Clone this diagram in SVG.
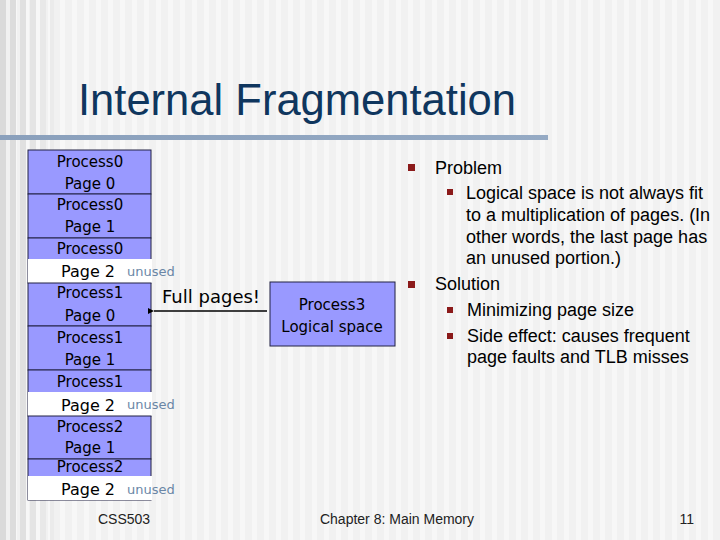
<svg xmlns="http://www.w3.org/2000/svg" width="720" height="540" viewBox="0 0 720 540">
<defs>
<pattern id="stripes" x="0" y="0" width="12" height="540" patternUnits="userSpaceOnUse">
<rect width="12" height="540" fill="#f1f1f1"/>
<rect x="0" width="5" height="540" fill="#f7f7f7"/>
</pattern>
<linearGradient id="bar" x1="0" y1="0" x2="1" y2="0">
<stop offset="0" stop-color="#8aa0bc"/>
<stop offset="1" stop-color="#95aac4"/>
</linearGradient>
<marker id="arr" markerWidth="8" markerHeight="8" refX="1" refY="4" orient="auto" markerUnits="userSpaceOnUse">
<path d="M7,1 L1,4 L7,7 z" fill="#000"/>
</marker>
<style>
.blk{fill:#9999ff;stroke:#222244;stroke-width:1}
.wht{fill:#ffffff;stroke:none}
.st{font-family:"DejaVu Sans",Verdana,sans-serif;font-size:15px;fill:#000;text-anchor:middle}
.pg2{font-family:"DejaVu Sans",Verdana,sans-serif;font-size:16px;fill:#000}
.un{font-family:"DejaVu Sans",Verdana,sans-serif;font-size:13px;fill:#6a86a6}
.bt{font-family:"Liberation Sans",Arial,sans-serif;font-size:18px;fill:#000}
.bul{fill:#8b1a1a}
.ft{font-family:"Liberation Sans",Arial,sans-serif;font-size:14px;fill:#222}
</style>
</defs>
<rect width="720" height="540" fill="url(#stripes)"/>
<rect x="0" width="6" height="540" fill="#dadada"/>
<rect x="10" width="6" height="540" fill="#dcdcdc"/>
<rect x="20" width="6" height="540" fill="#e0e0e0"/>
<rect x="30" width="6" height="540" fill="#e4e4e4"/>
<rect x="40" width="6" height="540" fill="#e8e8e8"/>
<rect x="50" width="4" height="540" fill="#ebebeb"/>

<g id="title">
<text x="78" y="115" font-family="Liberation Sans, Arial, sans-serif" font-size="45" fill="#0f365e" textLength="438" lengthAdjust="spacingAndGlyphs">Internal Fragmentation</text>
<rect x="0" y="135" width="548" height="5" fill="url(#bar)"/>
</g>

<g id="stack">
<g id="p0pg0"><rect class="blk" x="28" y="150" width="123" height="44"/><text class="st" x="90" y="167">Process0</text><text class="st" x="90" y="189">Page 0</text></g>
<g id="p0pg1"><rect class="blk" x="28" y="194" width="123" height="44"/><text class="st" x="90" y="210">Process0</text><text class="st" x="90" y="232">Page 1</text></g>
<g id="p0pg2"><rect class="blk" x="28" y="238" width="123" height="45"/><rect class="wht" x="28" y="259" width="124" height="24"/><text class="st" x="90" y="254">Process0</text><text class="pg2" x="61" y="277">Page 2</text><text class="un" x="127" y="276">unused</text></g>
<g id="p1pg0"><rect class="blk" x="28" y="283" width="123" height="43"/><text class="st" x="90" y="298">Process1</text><text class="st" x="90" y="321">Page 0</text></g>
<g id="p1pg1"><rect class="blk" x="28" y="326" width="123" height="44"/><text class="st" x="90" y="343">Process1</text><text class="st" x="90" y="365">Page 1</text></g>
<g id="p1pg2"><rect class="blk" x="28" y="370" width="123" height="46"/><rect class="wht" x="28" y="392" width="124" height="24"/><text class="st" x="90" y="387">Process1</text><text class="pg2" x="61" y="411">Page 2</text><text class="un" x="127" y="409">unused</text></g>
<g id="p2pg1"><rect class="blk" x="28" y="416" width="123" height="43"/><text class="st" x="90" y="432">Process2</text><text class="st" x="90" y="453">Page 1</text></g>
<g id="p2pg2"><rect class="blk" x="28" y="459" width="123" height="41"/><rect class="wht" x="28" y="476" width="124" height="24"/><text class="st" x="90" y="472">Process2</text><text class="pg2" x="61" y="495">Page 2</text><text class="un" x="127" y="494">unused</text></g>
</g>

<g id="process3">
<rect x="270" y="282" width="125" height="64" fill="#9999ff" stroke="#222244" stroke-width="1"/>
<text class="st" x="332" y="310">Process3</text>
<text class="st" x="332" y="332">Logical space</text>
</g>

<g id="connectors">
<line x1="267" y1="311" x2="154" y2="311" stroke="#000" stroke-width="1.5" marker-end="url(#arr)"/>
<text x="162" y="303" font-family="DejaVu Sans, Verdana, sans-serif" font-size="18" fill="#000">Full pages!</text>
</g>

<g id="bullets">
<rect class="bul" x="408" y="164" width="7" height="7"/>
<text class="bt" x="435" y="174">Problem</text>
<rect class="bul" x="447" y="189" width="6" height="6"/>
<text class="bt" x="466" y="199"> Logical space is not always fit</text>
<text class="bt" x="466" y="221">to a multiplication of pages. (In</text>
<text class="bt" x="466" y="243">other words, the last page has</text>
<text class="bt" x="466" y="264">an unused portion.)</text>
<rect class="bul" x="408" y="281" width="7" height="7"/>
<text class="bt" x="435" y="290">Solution</text>
<rect class="bul" x="447" y="307" width="6" height="6"/>
<text class="bt" x="467" y="316">Minimizing page size</text>
<rect class="bul" x="447" y="333" width="6" height="6"/>
<text class="bt" x="467" y="342">Side effect: causes frequent</text>
<text class="bt" x="467" y="363">page faults and TLB misses</text>
</g>

<g id="footer">
<text class="ft" x="98" y="524">CSS503</text>
<text class="ft" x="397" y="524" text-anchor="middle">Chapter 8: Main Memory</text>
<text class="ft" x="694" y="524" text-anchor="end">11</text>
</g>
</svg>
